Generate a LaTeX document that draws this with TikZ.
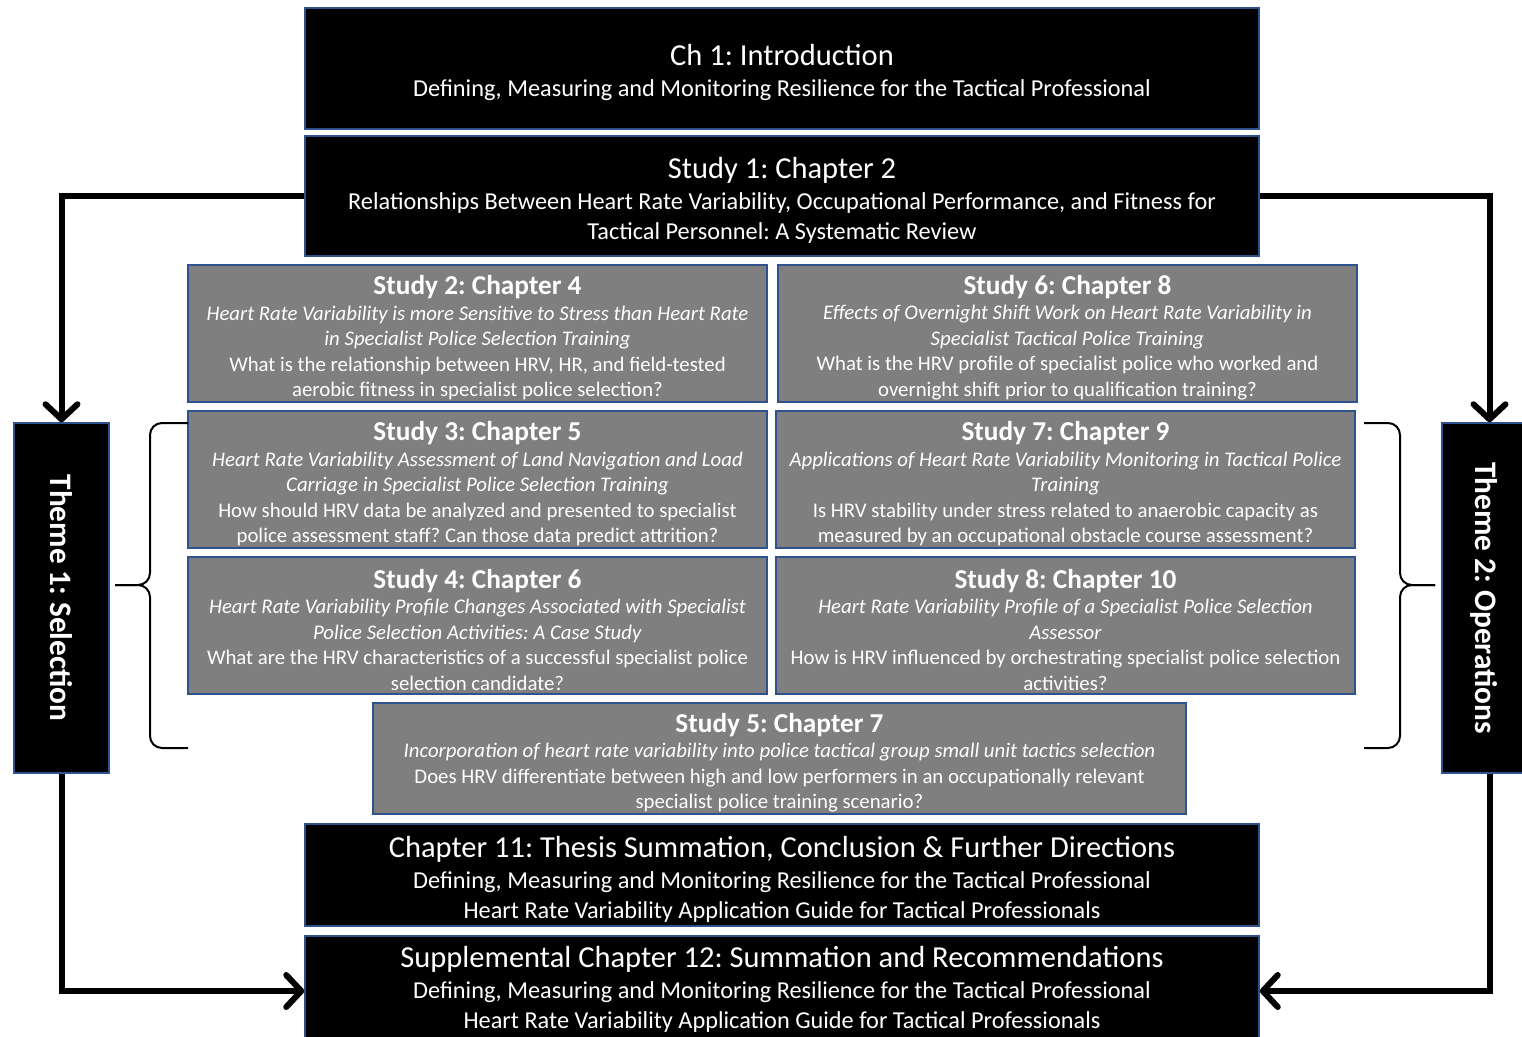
\documentclass[tikz,border=0pt]{standalone}
\usepackage{fontspec}
\setmainfont{Carlito}
\usetikzlibrary{arrows.meta,positioning}
\definecolor{edgeblue}{RGB}{47,82,143}
\definecolor{studygray}{RGB}{127,127,127}
\frenchspacing
\newcommand\chtitle[1]{{\fontsize{30.5}{33}\selectfont\rule{0pt}{30pt}#1}\\[1pt]}
\newcommand\sttitle[1]{{\bfseries\fontsize{27.3}{28}\selectfont\rule{0pt}{27.5pt}#1}\\}

\begin{document}
\begin{tikzpicture}[x=1pt,y=-1pt,
      chap/.style={draw=edgeblue,line width=1.5pt,fill=black,text=white,align=center,
        minimum width=954pt,inner sep=0pt,font=\fontsize{24.3}{30}\selectfont},
      study/.style={draw=edgeblue,line width=1.5pt,fill=studygray,text=white,align=center,
        minimum width=579pt,minimum height=137pt,inner sep=0pt,font=\fontsize{20.8}{25.5}\selectfont},
      theme/.style={draw=edgeblue,line width=1.5pt,fill=black,minimum width=95pt,minimum height=350pt},
      themetext/.style={rotate=-90,text=white,font=\bfseries\fontsize{31.3}{34}\selectfont},
      flow/.style={line width=6pt,-{Straight Barb[length=15pt,width=32pt,round]}},
      brace/.style={line width=2pt,rounded corners=12pt}
    ]
      \useasboundingbox (0,0) rectangle (1522,1036);
      % chapters
      \node[chap,minimum height=121pt] (ch1) at (782,68.5) {\chtitle{Ch 1: Introduction}
        Defining, Measuring and Monitoring Resilience for the Tactical Professional};
      \node[chap,minimum height=120pt] (s1) at (782,196) {\chtitle{Study 1: Chapter 2}
        Relationships Between Heart Rate Variability, Occupational Performance, and Fitness for\\
        Tactical Personnel: A Systematic Review};
      % studies
      \node[study] (s2) at (477.5,333.5) {\sttitle{Study 2: Chapter 4}
        \textit{Heart Rate Variability is more Sensitive to Stress than Heart Rate}\\
        \textit{in Specialist Police Selection Training}\\
        What is the relationship between HRV, HR, and field-tested\\
        aerobic fitness in specialist police selection?};
      \node[study] (s6) at (1067.5,333.5) {\sttitle{Study 6: Chapter 8}
        \textit{Effects of Overnight Shift Work on Heart Rate Variability in}\\
        \textit{Specialist Tactical Police Training}\\
        What is the HRV profile of specialist police who worked and\\
        overnight shift prior to qualification training?};
      \node[study] (s3) at (477.5,479.5) {\sttitle{Study 3: Chapter 5}
        \textit{Heart Rate Variability Assessment of Land Navigation and Load}\\
        \textit{Carriage in Specialist Police Selection Training}\\
        How should HRV data be analyzed and presented to specialist\\
        police assessment staff? Can those data predict attrition?};
      \node[study] (s7) at (1065.5,479.5) {\sttitle{Study 7: Chapter 9}
        \textit{Applications of Heart Rate Variability Monitoring in Tactical Police}\\
        \textit{Training}\\
        Is HRV stability under stress related to anaerobic capacity as\\
        measured by an occupational obstacle course assessment?};
      \node[study] (s4) at (477.5,625.5) {\sttitle{Study 4: Chapter 6}
        \textit{Heart Rate Variability Profile Changes Associated with Specialist}\\
        \textit{Police Selection Activities: A Case Study}\\
        What are the HRV characteristics of a successful specialist police\\
        selection candidate?};
      \node[study] (s8) at (1065.5,625.5) {\sttitle{Study 8: Chapter 10}
        \textit{Heart Rate Variability Profile of a Specialist Police Selection}\\
        \textit{Assessor}\\
        How is HRV influenced by orchestrating specialist police selection\\
        activities?};
      \node[study,minimum width=813pt,minimum height=111pt] (s5) at (779.5,758.5) {\sttitle{Study 5: Chapter 7}
        \textit{Incorporation of heart rate variability into police tactical group small unit tactics selection}\\
        Does HRV differentiate between high and low performers in an occupationally relevant\\
        specialist police training scenario?};
      % closing chapters
      \node[chap,minimum height=102pt] (ch11) at (782,875) {\chtitle{Chapter 11: Thesis Summation, Conclusion \& Further Directions}
        Defining, Measuring and Monitoring Resilience for the Tactical Professional\\
        Heart Rate Variability Application Guide for Tactical Professionals};
      \node[chap,minimum height=110pt] (s12) at (782,991) {\chtitle{Supplemental Chapter 12: Summation and Recommendations}
        Defining, Measuring and Monitoring Resilience for the Tactical Professional\\
        Heart Rate Variability Application Guide for Tactical Professionals\rule[-16pt]{0pt}{16pt}};
      % themes
      \node[theme] (th1) at (61.5,598) {};
      \node[themetext] at (th1) {Theme 1: Selection};
      \node[theme] (th2) at (1489.5,598) {};
      \node[themetext] at (1484,598) {Theme 2: Operations};
      % arrows
      \draw[flow] (s1.west) -| (th1.north);
      \draw[flow] (s1.east) -| (th2.north);
      \draw[flow] (th1.south) |- (s12.west);
      \draw[flow] (th2.south) |- (s12.east);
      % braces
      \draw[brace] (188,423) -- (150,423) -- (150,585) -- (115,585);
      \draw[brace] (188,748) -- (150,748) -- (150,585) -- (115,585);
      \draw[brace] (1364,423) -- (1400,423) -- (1400,585) -- (1435,585);
      \draw[brace] (1364,748) -- (1400,748) -- (1400,585) -- (1435,585);
    \end{tikzpicture}
\end{document}
